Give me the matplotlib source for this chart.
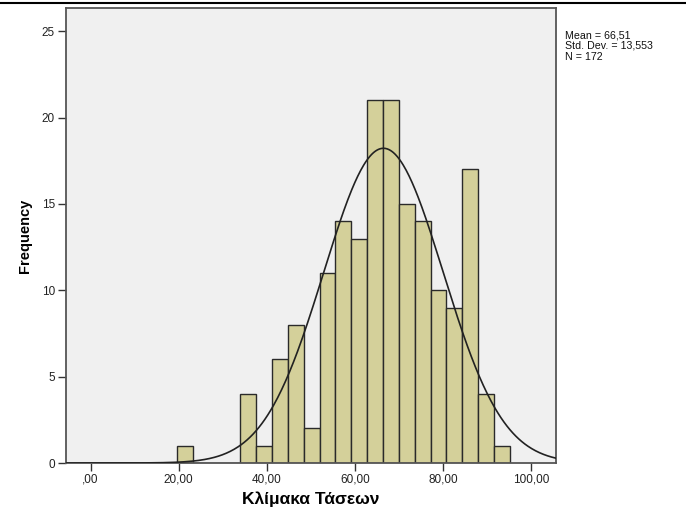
import numpy as np
import matplotlib
matplotlib.use("Agg")
import matplotlib.pyplot as plt
from matplotlib.lines import Line2D

# Data
bin_start = 19.6
bin_width = 3.6
counts = [1, 0, 0, 0, 4, 1, 6, 8, 2, 11, 14, 13, 21, 21, 15, 14, 10, 9, 17, 4, 1]
mean_val = 66.51
std_val = 13.553
n_val = 172
x_ticks = [0, 20, 40, 60, 80, 100]
x_tick_labels = [",00", "20,00", "40,00", "60,00", "80,00", "100,00"]
y_ticks = [0, 5, 10, 15, 20, 25]

plt.rcParams['font.family'] = ['Liberation Sans', 'DejaVu Sans']

W, H = 686, 513
fig = plt.figure(figsize=(W / 100, H / 100), dpi=100)
fig.patch.set_facecolor("white")
ax = fig.add_axes([66 / W, 1 - 463 / H, (556 - 66) / W, (463 - 8) / H])
ax.set_facecolor("#F0F0F0")

edges = bin_start + bin_width * np.arange(len(counts) + 1)
ax.bar(edges[:-1], counts, width=bin_width, align="edge",
       color="#D4D09A", edgecolor="#2a2a2a", linewidth=1.0, zorder=2)

xs = np.linspace(-6, 106, 500)
pdf = np.exp(-0.5 * ((xs - mean_val) / std_val) ** 2) / (std_val * np.sqrt(2 * np.pi))
ax.plot(xs, n_val * bin_width * pdf, color="#222222", linewidth=1.2, zorder=3)

ax.set_xlim(-5.6, 105.7)
ax.set_ylim(0, 26.35)
ax.set_xticks(x_ticks)
ax.set_xticklabels(x_tick_labels)
ax.set_yticks(y_ticks)
ax.set_yticklabels([str(v) for v in y_ticks])
ax.tick_params(axis="both", direction="out", length=6, width=1.0,
               color="#333333", labelsize=8.5, labelcolor="#222222")
ax.tick_params(axis="x", pad=1.5)
ax.tick_params(axis="y", pad=2)

for s in ax.spines.values():
    s.set_color("#555555")
    s.set_linewidth(1.3)

ax.set_xlabel("Κλίμακα Τάσεων", fontsize=12.5, fontweight="bold", labelpad=4)
ax.set_ylabel("Frequency", fontsize=10.5, fontweight="bold", labelpad=7)

fig.text(565 / W, 1 - 30 / H,
         "Mean = 66,51\nStd. Dev. = 13,553\nN = 172",
         fontsize=7.7, va="top", ha="left", color="#111111", linespacing=1.1)

fig.add_artist(Line2D([0, 1], [1 - 3 / H, 1 - 3 / H], color="black", linewidth=1.5,
                      transform=fig.transFigure))

fig.savefig("out.png", dpi=100)
